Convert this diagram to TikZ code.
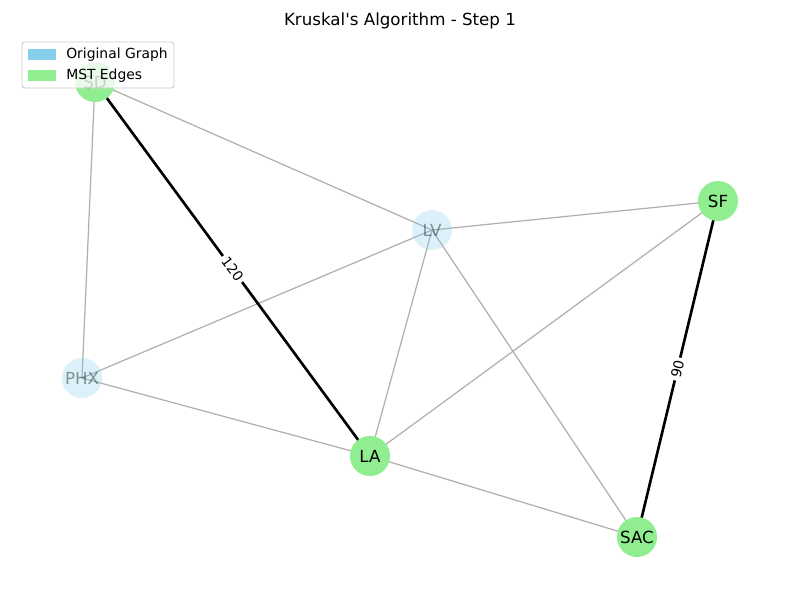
\documentclass[tikz,border=0pt]{standalone}
\usepackage{fontspec}
\setmainfont{DejaVu Sans}[Ligatures=TeXOff]
\usetikzlibrary{backgrounds}
\definecolor{skyb}{HTML}{87CEEB}
\definecolor{lgreen}{HTML}{90EE90}
\definecolor{edgegray}{RGB}{176,176,176}
\definecolor{legframe}{RGB}{204,204,204}
\tikzset{
  basenode/.style={circle, minimum size=28.8pt, inner sep=0pt, font=\fontsize{12}{14}\selectfont},
  mstnode/.style={basenode, fill=lgreen},
  orignode/.style={basenode, fill=skyb, fill opacity=0.3, text opacity=0.4},
  graphedge/.style={draw=edgegray, line width=0.9pt},
  mstedge/.style={draw=black, line width=1.9pt},
  wlabel/.style={midway, sloped, fill=white, inner sep=2pt, font=\fontsize{10}{12}\selectfont},
  legtext/.style={anchor=west, inner sep=0pt, font=\fontsize{10}{12}\selectfont},
}
\begin{document}
\begin{tikzpicture}[x=0.72pt,y=-0.72pt]
\useasboundingbox (0,0) rectangle (800,600);
\node[font=\fontsize{12}{14}\selectfont] (title) at (400,21) {Kruskal's Algorithm - Step 1};

\node[mstnode] (SD) at (95,82) {SD};
\node[orignode] (LV) at (432,230) {LV};
\node[mstnode] (SF) at (718,201) {SF};
\node[orignode] (PHX) at (82,378) {PHX};
\node[mstnode] (LA) at (370,456) {LA};
\node[mstnode] (SAC) at (637,537) {SAC};

\begin{pgfonlayer}{background}
\draw[graphedge] (SD.center) -- (LV.center);
\draw[graphedge] (SD.center) -- (PHX.center);
\draw[graphedge] (LV.center) -- (SF.center);
\draw[graphedge] (LV.center) -- (PHX.center);
\draw[graphedge] (LV.center) -- (LA.center);
\draw[graphedge] (LV.center) -- (SAC.center);
\draw[graphedge] (SF.center) -- (LA.center);
\draw[graphedge] (PHX.center) -- (LA.center);
\draw[graphedge] (LA.center) -- (SAC.center);
\draw[mstedge] (SD.center) -- node[wlabel] {120} (LA.center);
\draw[mstedge] (SF.center) -- node[wlabel] {90} (SAC.center);
\end{pgfonlayer}

% legend
\draw[draw=legframe, fill=white, fill opacity=0.8, rounded corners=2pt, line width=0.7pt] (22,42) rectangle (174,88);
\fill[skyb] (28,49) rectangle (56,60);
\fill[lgreen] (28,70) rectangle (56,81);
\node[legtext] (leg1) at (66,54.5) {Original Graph};
\node[legtext] (leg2) at (66,75.5) {MST Edges};
\end{tikzpicture}
\end{document}
